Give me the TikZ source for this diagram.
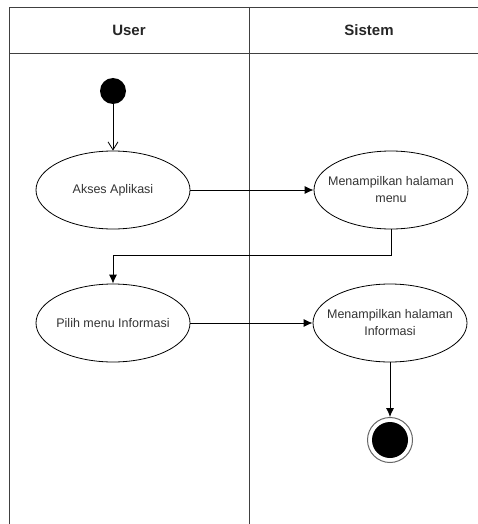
\documentclass[tikz,border=0pt]{standalone}
\usepackage{fontspec}
\setmainfont{Liberation Sans}
\usetikzlibrary{shapes.geometric,arrows.meta}
\tikzstyle{lane}=[draw=black!75,line width=0.9pt]
\tikzstyle{lanetitle}=[font=\fontsize{15}{18}\selectfont\bfseries,text=black!85]
\tikzstyle{activity}=[ellipse,draw,line width=0.8pt,minimum width=154pt,minimum height=78pt,inner xsep=-10pt,inner ysep=0pt,align=center,font=\fontsize{12.5}{17}\selectfont,text=black!80]
\tikzstyle{initial}=[circle,fill=black,minimum size=26pt,inner sep=0pt]
\tikzstyle{final}=[circle,draw=black!60,line width=1pt,minimum size=45pt,inner sep=0pt,path picture={\fill[black] (path picture bounding box.center) circle (18pt);}]
\tikzstyle{edge} = [draw,line width=0.8pt,-{Latex[length=9pt,width=8pt]}]
\tikzstyle{open} = [draw,line width=0.8pt,-{Straight Barb[length=8pt,width=10pt]}]

\begin{document}
\begin{tikzpicture}[x=1pt,y=-1pt,transform shape]
        \useasboundingbox (0,0) rectangle (478,524);
        % swimlanes
        \draw[lane] (9,524) -- (9,7) -- (478,7);
        \draw[lane] (9,53) -- (478,53);
        \draw[lane] (249,7) -- (249,524);
        \node[lanetitle] (user) at (129,30) {User};
        \node[lanetitle] (sistem) at (369,30) {Sistem};
        % activities
        \node[initial] (start) at (113,91) {};
        \node[activity] (akses) at (113,190) {Akses Aplikasi};
        \node[activity] (menu) at (391,190) {Menampilkan halaman\\menu};
        \node[activity] (pilih) at (113,323) {Pilih menu Informasi};
        \node[activity] (info) at (390,323) {Menampilkan halaman\\Informasi};
        \node[final] (stop) at (390,440) {};
        % flow
        \path[open] (start) -- (akses);
        \path[edge] (akses) -- (menu);
        \path[edge] (menu.south) -- ++(0,26) -| (pilih.north);
        \path[edge] (pilih) -- (info);
        \path[edge] (info) -- (stop);
    \end{tikzpicture}
\end{document}
